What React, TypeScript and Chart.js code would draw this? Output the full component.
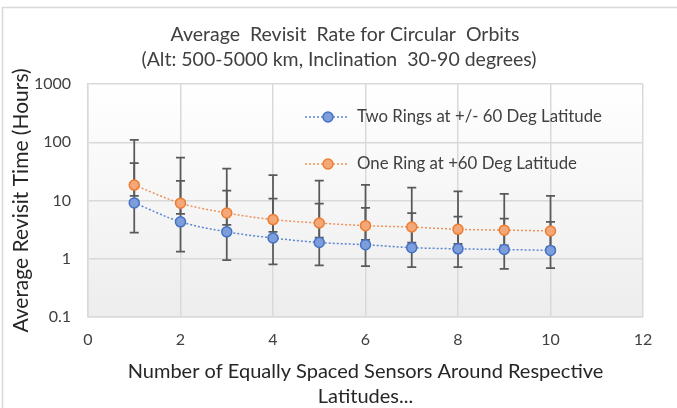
import { useEffect, useRef } from 'react';
import { Chart, registerables } from 'chart.js';

Chart.register(...registerables);

const FONT = 'Lato, "Open Sans", sans-serif';

const sensors = [1, 2, 3, 4, 5, 6, 7, 8, 9, 10];
const twoRings = [9.1, 4.3, 2.9, 2.27, 1.9, 1.74, 1.55, 1.48, 1.44, 1.39];
const oneRing = [18.4, 9.0, 6.1, 4.7, 4.1, 3.7, 3.5, 3.2, 3.1, 3.0];
const twoRingsHigh = [44, 21.8, 14.8, 10.8, 8.8, 7.5, 6.1, 5.3, 4.9, 4.3];
const twoRingsLow = [2.8, 1.33, 0.95, 0.8, 0.77, 0.75, 0.72, 0.72, 0.67, 0.69];
const oneRingHigh = [110, 54.6, 35.4, 27.3, 22, 18.6, 16.7, 14.3, 13, 12.0];
const oneRingLow = [12.0, 5.9, 3.8, 2.9, 2.3, 2.1, 1.9, 1.8, 1.7, 1.6];
const yTicks = [0.1, 1, 10, 100, 1000];
const seriesLabels = ['Two Rings at +/- 60 Deg Latitude', 'One Ring at +60 Deg Latitude'];
const titleLines = ['Average  Revisit  Rate for Circular  Orbits', '(Alt: 500-5000 km, Inclination  30-90 degrees)'];
const xTitle = ['Number of Equally Spaced Sensors Around Respective', 'Latitudes...'];
const yTitle = 'Average Revisit Time (Hours)';

const errHigh = [twoRingsHigh, oneRingHigh];
const errLow = [twoRingsLow, oneRingLow];

const bgPlugin = {
  id: 'bg',
  beforeDraw(chart: any) {
    const { ctx, chartArea: a } = chart;
    ctx.save();
    ctx.fillStyle = '#ffffff';
    ctx.fillRect(0, 0, chart.width, chart.height);
    const g = ctx.createLinearGradient(0, a.top, 0, a.bottom);
    g.addColorStop(0, '#ffffff');
    g.addColorStop(1, '#ededed');
    ctx.fillStyle = g;
    ctx.fillRect(a.left, a.top, a.right - a.left, a.bottom - a.top);
    ctx.strokeStyle = '#d9d9d9';
    ctx.lineWidth = 1.5;
    ctx.beginPath();
    ctx.moveTo(2.5, chart.height + 2);
    ctx.lineTo(2.5, 7.5);
    ctx.lineTo(chart.width + 2, 7.5);
    ctx.stroke();
    ctx.restore();
  },
};

const errorBarPlugin = {
  id: 'errbars',
  beforeDatasetsDraw(chart: any) {
    const { ctx } = chart;
    const xs = chart.scales.x;
    const ys = chart.scales.y;
    ctx.save();
    ctx.strokeStyle = '#595959';
    ctx.lineWidth = 1.75;
    for (let d = 0; d < 2; d++) {
      sensors.forEach((s, i) => {
        const x = xs.getPixelForValue(s);
        const yh = ys.getPixelForValue(errHigh[d][i]);
        const yl = ys.getPixelForValue(errLow[d][i]);
        ctx.beginPath();
        ctx.moveTo(x, yh);
        ctx.lineTo(x, yl);
        ctx.moveTo(x - 4.5, yh);
        ctx.lineTo(x + 4.5, yh);
        ctx.moveTo(x - 4.5, yl);
        ctx.lineTo(x + 4.5, yl);
        ctx.stroke();
      });
    }
    ctx.restore();
  },
};

const titlePlugin = {
  id: 'customTitle',
  afterDraw(chart: any) {
    const { ctx } = chart;
    ctx.save();
    ctx.fillStyle = '#404040';
    ctx.font = `19.5px ${FONT}`;
    ctx.textAlign = 'center';
    ctx.textBaseline = 'middle';
    ctx.fillText(titleLines[0], 345, 35);
    ctx.fillText(titleLines[1], 339, 60);
    ctx.restore();
  },
};

const legendPlugin = {
  id: 'customLegend',
  afterDraw(chart: any) {
    const { ctx } = chart;
    const rows = [117, 164];
    ctx.save();
    chart.data.datasets.forEach((ds: any, i: number) => {
      const y = rows[i];
      ctx.strokeStyle = ds.borderColor;
      ctx.lineWidth = 1.5;
      ctx.setLineDash([2, 2]);
      ctx.beginPath();
      ctx.moveTo(305, y);
      ctx.lineTo(349, y);
      ctx.stroke();
      ctx.setLineDash([]);
      ctx.beginPath();
      ctx.arc(328, y, 5, 0, Math.PI * 2);
      ctx.fillStyle = ds.pointBackgroundColor;
      ctx.fill();
      ctx.strokeStyle = ds.pointBorderColor;
      ctx.stroke();
      ctx.fillStyle = '#404040';
      ctx.font = `16.8px ${FONT}`;
      ctx.textAlign = 'left';
      ctx.textBaseline = 'middle';
      ctx.fillText(ds.label, 357, y);
    });
    ctx.restore();
  },
};

export default function App() {
  const ref = useRef<HTMLCanvasElement>(null);
  useEffect(() => {
    const mk = (vals: number[]) => sensors.map((s, i) => ({ x: s, y: vals[i] }));
    const chart = new Chart(ref.current as HTMLCanvasElement, {
      type: 'line',
      data: {
        datasets: [
          {
            label: seriesLabels[0],
            data: mk(twoRings),
            borderColor: '#5b86d1',
            borderWidth: 1.5,
            borderDash: [2, 2],
            pointBackgroundColor: '#7d9edb',
            pointBorderColor: '#4472c4',
            pointBorderWidth: 1.5,
            pointRadius: 5,
            tension: 0.4,
            cubicInterpolationMode: 'monotone',
          },
          {
            label: seriesLabels[1],
            data: mk(oneRing),
            borderColor: '#f0925a',
            borderWidth: 1.5,
            borderDash: [2, 2],
            pointBackgroundColor: '#f4a777',
            pointBorderColor: '#ed7d31',
            pointBorderWidth: 1.5,
            pointRadius: 5,
            tension: 0.4,
            cubicInterpolationMode: 'monotone',
          },
        ],
      },
      options: {
        animation: false,
        responsive: false,
        maintainAspectRatio: false,
        layout: { padding: { left: 0, top: 84, right: 34, bottom: 0 } },
        plugins: {
          legend: { display: false },
          title: { display: false },
          tooltip: { enabled: false },
        },
        scales: {
          x: {
            type: 'linear',
            min: 0,
            max: 12,
            ticks: { stepSize: 2, padding: 13, color: '#404040', font: { family: FONT, size: 16 } },
            grid: { color: '#d9d9d9', drawTicks: false, lineWidth: 1.5 },
            border: { color: '#d9d9d9', width: 1.5 },
            title: {
              display: true,
              text: xTitle,
              color: '#262626',
              font: { family: FONT, size: 20, lineHeight: '25px' },
              padding: { top: 0, bottom: -1 },
            },
            afterFit: (s: any) => {
              s.height = 91;
            },
          },
          y: {
            type: 'logarithmic',
            min: 0.1,
            max: 1000,
            afterBuildTicks: (s: any) => {
              s.ticks = yTicks.map((v) => ({ value: v }));
            },
            ticks: {
              padding: 17,
              color: '#404040',
              font: { family: FONT, size: 16 },
              callback: (v: any) => String(v),
            },
            grid: { color: '#d9d9d9', drawTicks: false, lineWidth: 1.5 },
            border: { color: '#d9d9d9', width: 1.5 },
            title: {
              display: true,
              text: yTitle,
              color: '#262626',
              font: { family: FONT, size: 21, lineHeight: '24px' },
              padding: { top: 9.5, bottom: 0 },
            },
            afterFit: (s: any) => {
              s.width = 88;
            },
          },
        },
      } as any,
      plugins: [bgPlugin, errorBarPlugin, titlePlugin, legendPlugin],
    });
    return () => chart.destroy();
  }, []);
  return (
    <div style={{ position: 'absolute', left: 0, top: 0, width: 677, height: 408 }}>
      <canvas ref={ref} width={677} height={408} style={{ display: 'block' }} />
    </div>
  );
}
